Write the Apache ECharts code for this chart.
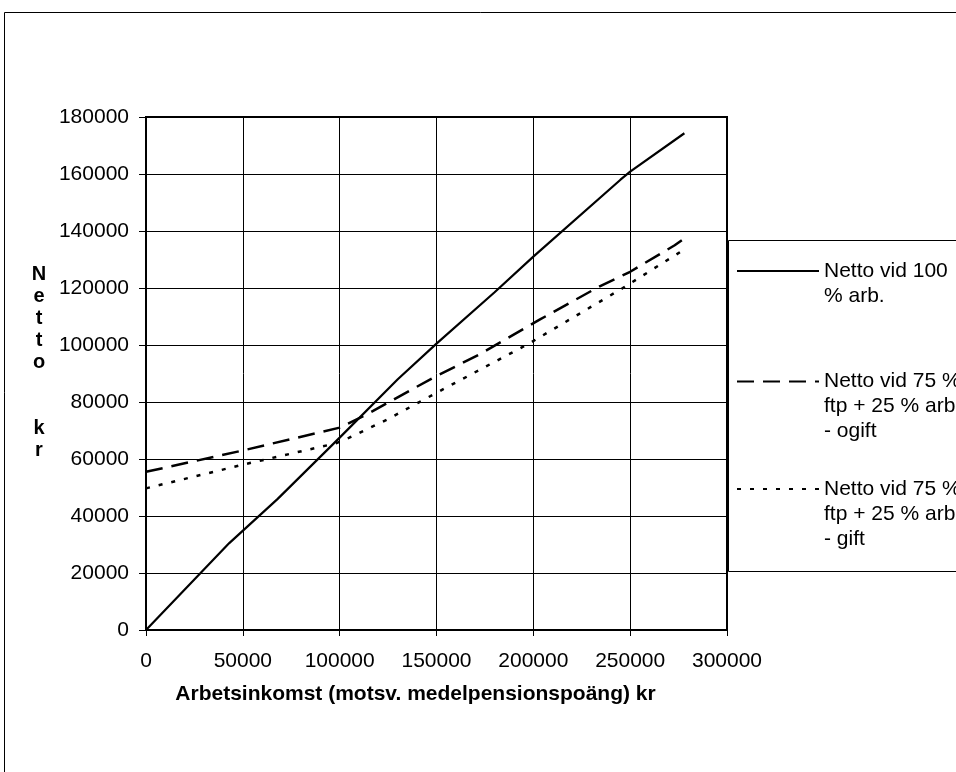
<!DOCTYPE html>
<html>
<head>
<meta charset="utf-8">
<script src="https://cdn.jsdelivr.net/npm/echarts@6/dist/echarts.min.js"></script>
<style>
html,body{margin:0;padding:0;background:#fff;}
#chart{width:956px;height:772px;}
</style>
</head>
<body>
<div id="chart"></div>
<script>
// ---- data ----
var seriesNames = [
  "Netto vid 100 % arb.",
  "Netto vid 75 % ftp + 25 % arb. - ogift",
  "Netto vid 75 % ftp + 25 % arb. - gift"
];
var legendLabels = [
  "Netto vid 100\n% arb.",
  "Netto vid 75 %\nftp + 25 % arb.\n- ogift",
  "Netto vid 75 %\nftp + 25 % arb.\n- gift"
];
var xFull = [0, 43000, 68000, 100000, 130000, 150000, 180000, 200000, 245000, 250000, 278000];
var yFull = [0, 30500, 46000, 67500, 88000, 100500, 118500, 131000, 158000, 160800, 174300];

var xOgift = [0, 50000, 100000, 115000, 129000, 148000, 173000, 203000, 234000, 250000, 273000, 278000];
var yOgift = [55500, 63000, 71000, 76000, 81300, 88400, 97000, 108800, 120500, 125700, 135000, 137400];

var xGift = [0, 50000, 98000, 105000, 125000, 148000, 198000, 246000, 276000, 278000];
var yGift = [49700, 58000, 65500, 67500, 74000, 82500, 100600, 119900, 132700, 133800];

var xTicks = [0, 50000, 100000, 150000, 200000, 250000, 300000];
var yTicks = [0, 20000, 40000, 60000, 80000, 100000, 120000, 140000, 160000, 180000];

var xAxisTitle = "Arbetsinkomst (motsv. medelpensionspoäng) kr";
var yAxisTitle = "Netto  kr";

function pairs(xs, ys) { return xs.map(function (x, i) { return [x, ys[i]]; }); }
function plain(v) { return String(v); }

var FONT = "'Liberation Sans', Arial, sans-serif";
var LH = 25;

function legendFor(i, iconY) {
  var lines = legendLabels[i].split("\n");
  var n = lines.length;
  var pad = [];
  for (var k = 0; k < n - 1; k++) pad.push("");
  var text = pad.concat(lines).join("\n");
  var total = (2 * n - 1) * LH;
  return {
    data: [seriesNames[i]],
    orient: 'vertical',
    left: 736,
    top: iconY - total / 2,
    padding: 0,
    itemWidth: 82,
    itemHeight: 14,
    selectedMode: false,
    itemStyle: { opacity: 0, borderWidth: 0 },
    formatter: function () { return text; },
    textStyle: { fontFamily: FONT, fontSize: 21, lineHeight: LH, color: '#000' }
  };
}

// vertical stacked y-axis title (one letter per line, a trailing blank line lifts it slightly)
var yNameText = yAxisTitle.split('').map(function (c) { return c === ' ' ? ' ' : c; }).join('\n') + '\n ';

var chart = echarts.init(document.getElementById('chart'), null, { renderer: 'canvas' });
chart.setOption({
  animation: false,
  backgroundColor: '#fff',
  graphic: [
    { type: 'rect', shape: { x: 4.5, y: 12.5, width: 1200, height: 1200 },
      style: { fill: 'none', stroke: '#000', lineWidth: 1 }, silent: true, z: 0 },
    { type: 'rect', shape: { x: 728.5, y: 240.5, width: 400, height: 331 },
      style: { fill: '#fff', stroke: '#000', lineWidth: 1 }, silent: true, z: 0 }
  ],
  grid: {
    left: 146, top: 117, right: 229, bottom: 142,
    show: true, borderColor: '#000', borderWidth: 2, backgroundColor: 'transparent'
  },
  legend: [legendFor(0, 271), legendFor(1, 381.5), legendFor(2, 489)],
  xAxis: {
    type: 'value', min: xTicks[0], max: xTicks[xTicks.length - 1], interval: 50000,
    name: xAxisTitle, nameLocation: 'middle', nameGap: 54,
    nameTextStyle: { fontFamily: FONT, fontSize: 21, fontWeight: 'bold', color: '#000', padding: [0, 42, 0, 0] },
    axisLine: { show: true, lineStyle: { color: '#000', width: 2 } },
    axisTick: { show: true, length: 6, lineStyle: { color: '#000', width: 1 } },
    axisLabel: { fontFamily: FONT, fontSize: 21, color: '#000', margin: 21, formatter: plain },
    splitLine: { show: true, lineStyle: { color: '#000', width: 1 } }
  },
  yAxis: {
    type: 'value', min: yTicks[0], max: yTicks[yTicks.length - 1], interval: 20000,
    name: yNameText, nameLocation: 'middle', nameRotate: 0, nameGap: 107,
    nameTextStyle: { fontFamily: FONT, fontSize: 20, fontWeight: 'bold', color: '#000', lineHeight: 22, align: 'center' },
    axisLine: { show: true, lineStyle: { color: '#000', width: 2 } },
    axisTick: { show: true, length: 7, lineStyle: { color: '#000', width: 1 } },
    axisLabel: { fontFamily: FONT, fontSize: 21, color: '#000', margin: 17, formatter: plain },
    splitLine: { show: true, lineStyle: { color: '#000', width: 1 } }
  },
  series: [
    { name: seriesNames[0], type: 'line', symbol: 'none', data: pairs(xFull, yFull),
      lineStyle: { color: '#000', width: 2.2, type: 'solid' }, itemStyle: { color: '#000' } },
    { name: seriesNames[1], type: 'line', symbol: 'none', data: pairs(xOgift, yOgift),
      lineStyle: { color: '#000', width: 2.5, type: [17, 9] }, itemStyle: { color: '#000' } },
    { name: seriesNames[2], type: 'line', symbol: 'none', data: pairs(xGift, yGift),
      lineStyle: { color: '#000', width: 2.5, type: [4, 9] }, itemStyle: { color: '#000' } }
  ]
});
</script>
</body>
</html>
